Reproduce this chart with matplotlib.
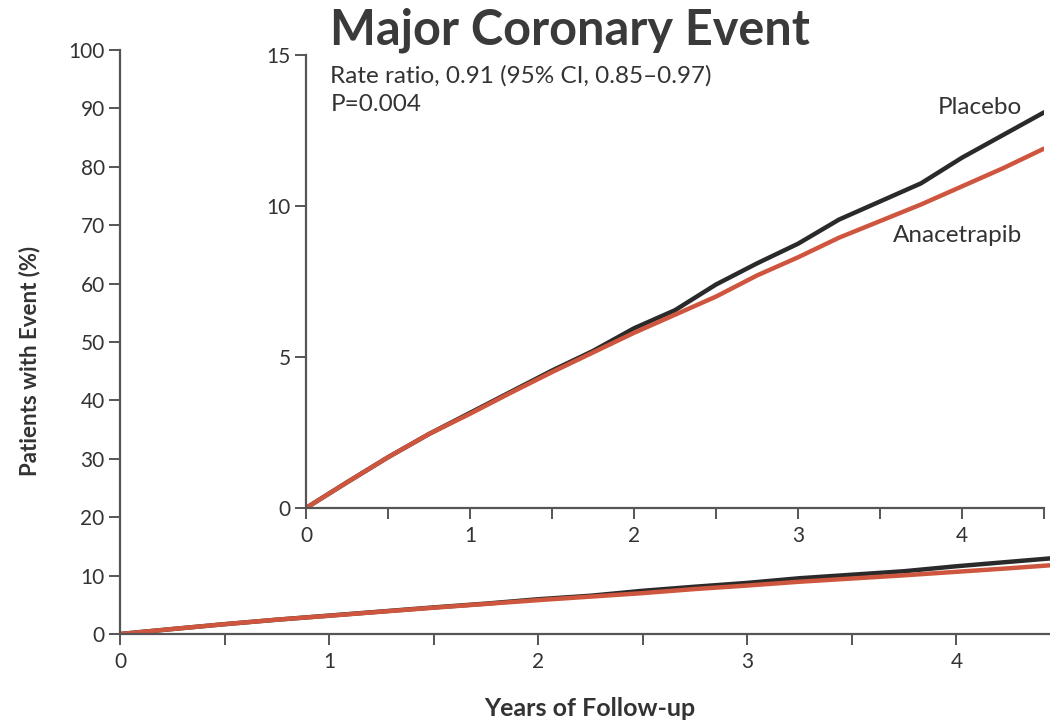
import numpy as np
import matplotlib.pyplot as plt

# values (percent of patients with event)
years = [0, 0.25, 0.5, 0.75, 1.0, 1.25, 1.5, 1.75, 2.0, 2.25, 2.5,
         2.75, 3.0, 3.25, 3.5, 3.75, 4.0, 4.25, 4.5]
placebo = [0, 0.85, 1.68, 2.45, 3.15, 3.85, 4.55, 5.2, 5.95, 6.55, 7.4,
           8.1, 8.75, 9.55, 10.15, 10.75, 11.6, 12.35, 13.1]
anacetrapib = [0, 0.85, 1.68, 2.45, 3.12, 3.82, 4.5, 5.15, 5.8, 6.4, 7.0,
               7.7, 8.3, 8.95, 9.5, 10.05, 10.65, 11.25, 11.9]

main_yticks = list(range(0, 101, 10))
inset_yticks = [0, 5, 10, 15]
xticks = [0, 1, 2, 3, 4]

black = '#2a2a2a'
red = '#cf563e'
spine = '#555555'
txt = '#333333'

plt.rcParams['font.family'] = ['Lato', 'DejaVu Sans']

fig = plt.figure(figsize=(10.5, 7.24), dpi=100)


def style(ax, ylim, yticks):
    for s in ['top', 'right']:
        ax.spines[s].set_visible(False)
    for s in ['left', 'bottom']:
        ax.spines[s].set_color(spine)
        ax.spines[s].set_linewidth(1.6)
    ax.set_xlim(0, 4.5)
    ax.set_ylim(*ylim)
    ax.set_xticks(xticks)
    ax.set_xticks([0.5, 1.5, 2.5, 3.5, 4.5], minor=True)
    ax.set_yticks(yticks)
    ax.tick_params(which='both', length=8, width=1.4, color=spine,
                   labelsize=15, labelcolor=txt, pad=3)
    ax.tick_params(axis='x', which='both', pad=5)


# main axes (runs past the right edge of the figure, as in the reference)
ax = fig.add_axes([120 / 1050, 90 / 724, 941 / 1050, 584 / 724])
style(ax, (0, 100), main_yticks)
ax.plot(years, placebo, color=black, lw=3.2, solid_capstyle='round')
ax.plot(years, anacetrapib, color=red, lw=3.2, solid_capstyle='round')
ax.set_ylabel('Patients with Event (%)', fontsize=16, fontweight='bold', color=txt)
ax.yaxis.set_label_coords(-0.085, 0.467)

fig.text(590 / 1050, 1 - 708 / 724, 'Years of Follow-up', fontsize=18,
         fontweight='bold', color=txt, ha='center', va='center')

# inset axes
ins = fig.add_axes([306 / 1050, 216 / 724, 738 / 1050, 453 / 724])
ins.patch.set_facecolor('white')
style(ins, (0, 15), inset_yticks)
ins.plot(years, placebo, color=black, lw=3.2, solid_capstyle='round')
ins.plot(years, anacetrapib, color=red, lw=3.2, solid_capstyle='round')

ins.text(0.033, 0.955, 'Rate ratio, 0.91 (95% CI, 0.85\u20130.97)', transform=ins.transAxes,
         fontsize=17.5, color=txt, va='center', ha='left')
ins.text(0.033, 0.89, 'P=0.004', transform=ins.transAxes,
         fontsize=17.5, color=txt, va='center', ha='left')
ins.text(0.97, 0.885, 'Placebo', transform=ins.transAxes,
         fontsize=17.5, color=txt, va='center', ha='right')
ins.text(0.97, 0.602, 'Anacetrapib', transform=ins.transAxes,
         fontsize=17.5, color=txt, va='center', ha='right')

fig.text(330 / 1050, 1 - 30 / 724, 'Major Coronary Event', fontsize=35,
         fontweight='bold', color='#3a3a3a', ha='left', va='center')

fig.savefig('out.png', dpi=100)
